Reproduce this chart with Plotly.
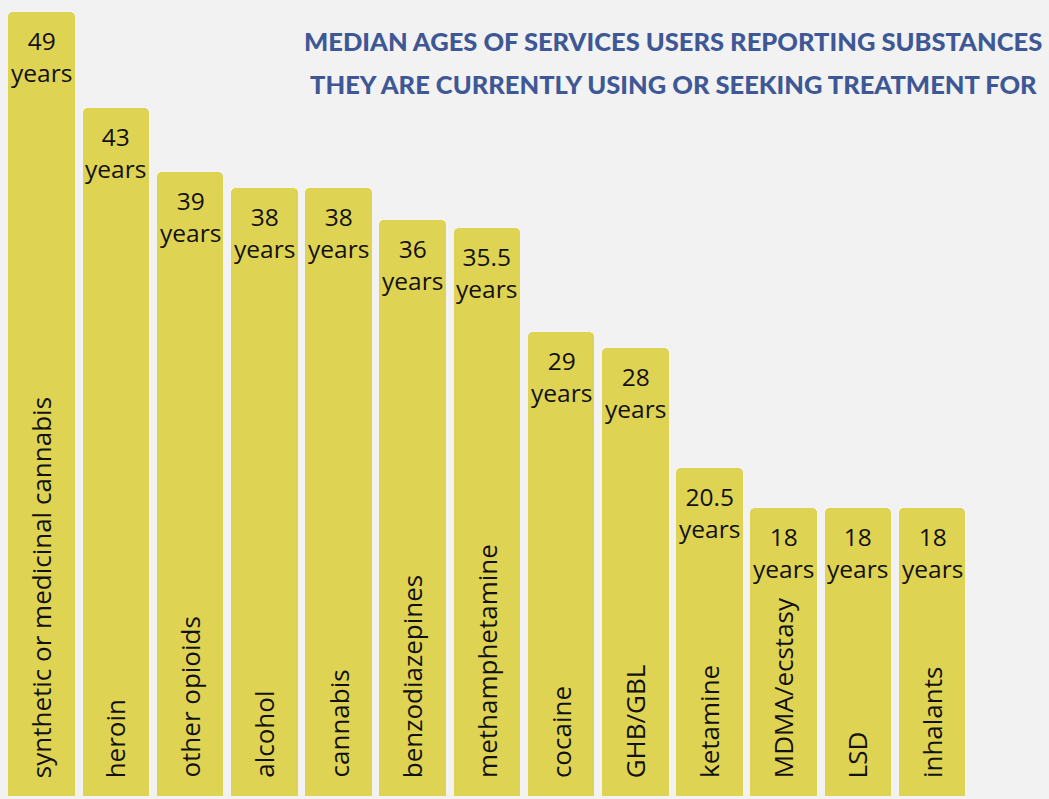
import plotly.graph_objects as go

# Median age of service users by substance
substances = [
    "synthetic or medicinal cannabis", "heroin", "other opioids", "alcohol",
    "cannabis", "benzodiazepines", "methamphetamine", "cocaine", "GHB/GBL",
    "ketamine", "MDMA/ecstasy", "LSD", "inhalants",
]
median_age = [49, 43, 39, 38, 38, 36, 35.5, 29, 28, 20.5, 18, 18, 18]
value_labels = ["49", "43", "39", "38", "38", "36", "35.5", "29", "28", "20.5", "18", "18", "18"]

title_lines = [
    "MEDIAN AGES OF SERVICES USERS REPORTING SUBSTANCES",
    "THEY ARE CURRENTLY USING OR SEEKING TREATMENT FOR",
]

BG = "#F2F2F2"
BAR = "#DFD354"
INK = "#111111"
TITLE_BLUE = "#3E5896"
FONT = "Open Sans"

x = list(range(len(substances)))

fig = go.Figure(
    go.Bar(
        x=x,
        y=median_age,
        width=0.896,
        marker=dict(color=BAR, line=dict(width=0), cornerradius=5),
        hoverinfo="skip",
    )
)

annotations = []
for i, (name, v, lab) in enumerate(zip(substances, median_age, value_labels)):
    # value label at the top of each bar
    annotations.append(dict(
        x=i, y=v, xref="x", yref="y", text=f"{lab}<br>years",
        showarrow=False, xanchor="center", yanchor="top", yshift=-10,
        align="center", font=dict(family=FONT, size=24.5, color=INK),
    ))
    # rotated category label near the bottom of each bar
    annotations.append(dict(
        x=i, y=0, xref="x", yref="y", text=name, textangle=-90,
        showarrow=False, xanchor="center", yanchor="bottom", yshift=16,
        font=dict(family=FONT, size=26, color=INK),
    ))

# two-line heading, each line centred on the same point
for k, (line, ypix) in enumerate(zip(title_lines, [41, 84])):
    annotations.append(dict(
        x=673 / 1049, y=1 - ypix / 799, xref="paper", yref="paper",
        text=line, showarrow=False,
        xanchor="center", yanchor="middle", align="center",
        font=dict(family="Lato", size=25.5, color=TITLE_BLUE, weight=900),
    ))

fig.update_layout(
    width=1049, height=799,
    margin=dict(l=0, r=0, t=0, b=0),
    paper_bgcolor=BG, plot_bgcolor=BG,
    showlegend=False,
    bargap=0,
    xaxis=dict(range=[-0.562, 13.575], visible=False, fixedrange=True),
    yaxis=dict(range=[-0.19, 49.75], visible=False, fixedrange=True),
    annotations=annotations,
)

fig.write_html("out.html", config={"displayModeBar": False})
